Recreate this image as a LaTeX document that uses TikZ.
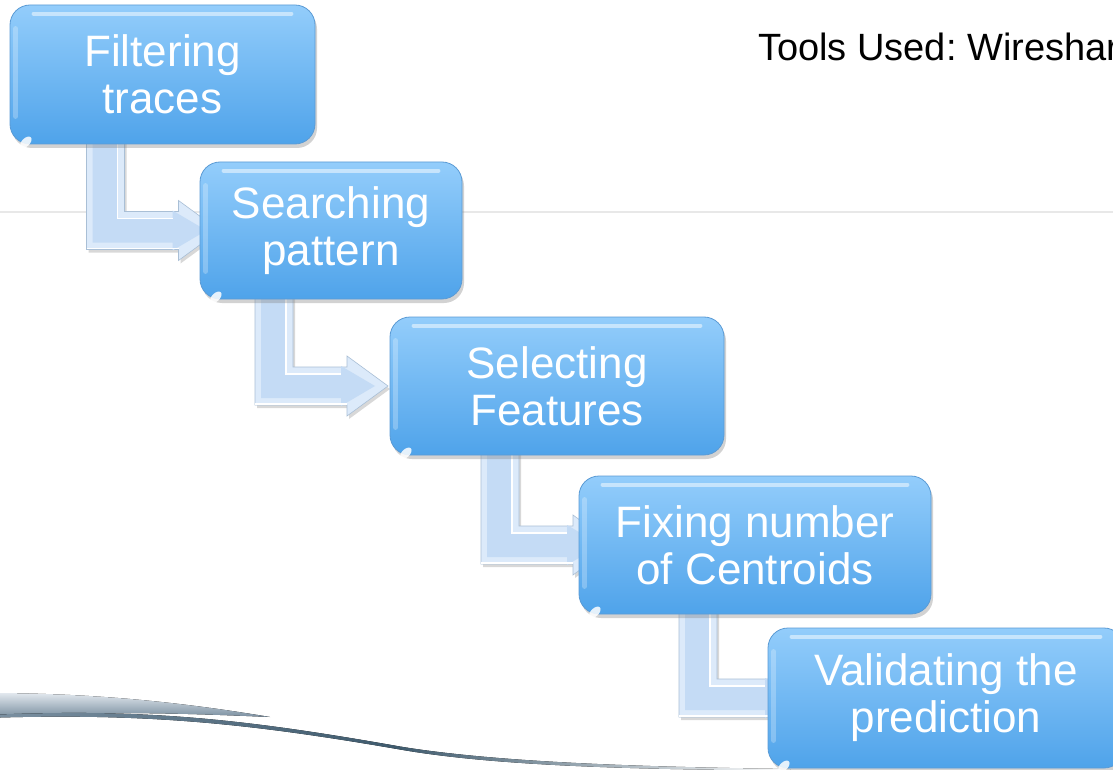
\documentclass[tikz,border=0pt]{standalone}
\usepackage{fontspec}
\setmainfont{Liberation Sans}
\frenchspacing
\usetikzlibrary{calc,shadows}
\definecolor{boxtop}{HTML}{93CDFB}
\definecolor{boxbot}{HTML}{4FA3EA}
\definecolor{boxedge}{HTML}{5B9BD5}
\definecolor{arrowface}{HTML}{C4DBF5}
\definecolor{arrowrim}{HTML}{DCEAFA}
\definecolor{arrowedge}{HTML}{A9BFD6}
\definecolor{rulegray}{HTML}{E8E8E8}
\definecolor{swooshdark}{HTML}{3E5A6D}
\definecolor{swooshmid}{HTML}{7A8FA0}
\definecolor{swooshlight}{HTML}{E2E8EE}
\pgfdeclarelayer{bg}
\pgfdeclarelayer{arr}
\pgfsetlayers{bg,arr,main}

% bent connector from the bottom of one stage into the left side of the next
\newcommand\elbow[2]{%
  \fill[arrowrim, draw=arrowedge, line width=0.6pt,
        drop shadow={shadow xshift=2pt, shadow yshift=-3pt, opacity=0.3}]
    let \p1=(#1.south), \p2=(#2.center) in
    (\x1-76pt,\y1+4pt) -- (\x1-38pt,\y1+4pt) -- (\x1-38pt,\y2+19pt)
    -- (\x1+16pt,\y2+19pt) -- (\x1+16pt,\y2+30pt) -- (\x1+57pt,\y2)
    -- (\x1+16pt,\y2-30pt) -- (\x1+16pt,\y2-19pt) -- (\x1-76pt,\y2-19pt) -- cycle;
  \fill[arrowface]
    let \p1=(#1.south), \p2=(#2.center) in
    (\x1-70pt,\y1+4pt) -- (\x1-45pt,\y1+4pt) -- (\x1-45pt,\y2+12pt)
    -- (\x1+10pt,\y2+12pt) -- (\x1+10pt,\y2+20pt) -- (\x1+44pt,\y2)
    -- (\x1+10pt,\y2-20pt) -- (\x1+10pt,\y2-12pt) -- (\x1-70pt,\y2-12pt) -- cycle;
  \draw[white, line width=1.6pt]
    let \p1=(#1.south), \p2=(#2.center) in
    (\x1-45pt,\y1+4pt) -- (\x1-45pt,\y2+12pt) -- (\x1+10pt,\y2+12pt)
    (\x1-76pt,\y2-18pt) -- (\x1+16pt,\y2-18pt);
}

% glossy highlights on a stage box
\newcommand\gloss[1]{%
  \draw[white, opacity=0.5, line width=4pt, line cap=round]
    ([xshift=24pt,yshift=-9pt]#1.north west) -- ([xshift=-24pt,yshift=-9pt]#1.north east);
  \draw[white, opacity=0.25, line width=5pt, line cap=round]
    ([xshift=6pt,yshift=-24pt]#1.north west) -- ([xshift=6pt,yshift=28pt]#1.south west);
  \fill[white, opacity=0.85, rotate around={-45:([xshift=10pt,yshift=13pt]#1.south west)}]
    ([xshift=10pt,yshift=13pt]#1.south west) ellipse (4pt and 7pt);
}

\begin{document}
\begin{tikzpicture}[x=1pt,y=-1pt,
  stage/.style={rounded corners=20pt, top color=boxtop, bottom color=boxbot,
    draw=boxedge, line width=0.8pt, text=white, align=center, inner sep=0pt,
    font=\fontsize{44}{47}\selectfont,
    drop shadow={shadow xshift=2pt, shadow yshift=-4pt, opacity=0.35}},
  note/.style={anchor=base west, inner sep=0pt, font=\fontsize{38}{42}\selectfont}]

\useasboundingbox (0,0) rectangle (1113,770);
\clip (0,0) rectangle (1113,770);

\begin{pgfonlayer}{bg}
  \fill[white] (0,0) rectangle (1113,770);
  % thin divider rule
  \draw[rulegray, line width=1.5pt] (0,212) -- (1113,212);
  % swoosh at the bottom left
  \fill[top color=swooshlight, bottom color=swooshmid]
    (0,693) .. controls (100,694) and (180,702) .. (270,717)
    .. controls (180,713) and (100,711) .. (0,716) -- cycle;
  \fill[left color=swooshmid, right color=white, middle color=swooshdark]
    (0,714.5) .. controls (150,708.5) and (250,720) .. (400,746.5)
    .. controls (500,763) and (650,767) .. (790,769)
    -- (790,770.5) .. controls (650,769.5) and (500,767) .. (400,749.5)
    .. controls (250,723.5) and (150,713.5) .. (0,717.5) -- cycle;
\end{pgfonlayer}

\node[note] (tools) at (758,61) {Tools Used: Wireshark};

\node[stage, minimum width=305pt, minimum height=139pt] (b1) at (162.5,74.5) {Filtering\\traces};
\node[stage, minimum width=262pt, minimum height=137pt] (b2) at (331,230.5) {Searching\\pattern};
\node[stage, minimum width=334pt, minimum height=138pt] (b3) at (557,386) {Selecting\\Features};
\node[stage, minimum width=352pt, minimum height=138pt] (b4) at (755,545) {Fixing number\\of Centroids};
\node[stage, minimum width=356pt, minimum height=140pt] (b5) at (946,698) {Validating the\\prediction};

\gloss{b1}\gloss{b2}\gloss{b3}\gloss{b4}\gloss{b5}

\begin{pgfonlayer}{arr}
  \elbow{b1}{b2}
  \elbow{b2}{b3}
  \elbow{b3}{b4}
  \elbow{b4}{b5}
\end{pgfonlayer}
\end{tikzpicture}
\end{document}
